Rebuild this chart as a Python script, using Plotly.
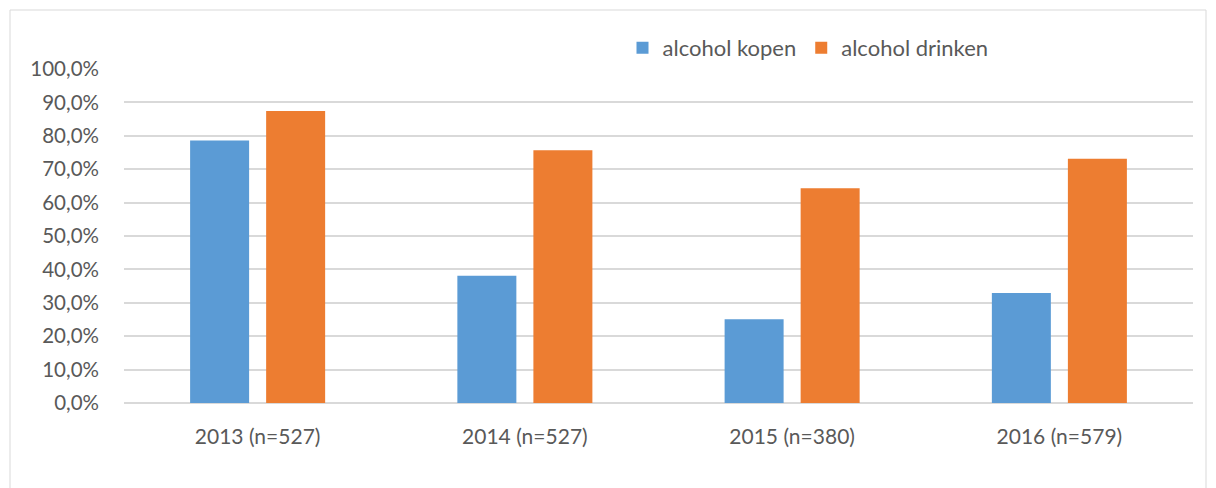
import plotly.graph_objects as go

categories = ["2013 (n=527)", "2014 (n=527)", "2015 (n=380)", "2016 (n=579)"]
kopen = [78.6, 38.1, 25.1, 32.9]
drinken = [87.4, 75.7, 64.3, 73.1]
tick_vals = [0, 10, 20, 30, 40, 50, 60, 70, 80, 90, 100]
tick_text = ["0,0%", "10,0%", "20,0%", "30,0%", "40,0%", "50,0%", "60,0%",
             "70,0%", "80,0%", "90,0%", "100,0%"]

W, H = 1216, 488
L, R, T, B = 124, 23, 69, 85
pw, ph = W - L - R, H - T - B

fig = go.Figure()
fig.add_trace(go.Bar(name="alcohol kopen", x=categories, y=kopen, marker_color="#5b9bd5",
                     marker_line_width=0))
fig.add_trace(go.Bar(name="alcohol drinken", x=categories, y=drinken, marker_color="#ed7d31",
                     marker_line_width=0))

font = "Lato, 'Open Sans', sans-serif"
fig.update_layout(
    width=W, height=H,
    margin=dict(l=L, r=R, t=T, b=B, autoexpand=False),
    paper_bgcolor="white", plot_bgcolor="white",
    barmode="group", bargap=0.431, bargroupgap=0.224,
    font=dict(family=font, size=21, color="#595959"),
    legend=dict(orientation="h", x=(808 - L) / pw, xanchor="center",
                y=1 + (T - 48) / ph, yanchor="middle",
                font=dict(size=22, color="#595959"), itemwidth=30,
                traceorder="normal"),
    xaxis=dict(showgrid=False, showline=False, ticks="", tickfont=dict(size=21),
               ticklabelstandoff=19),
    yaxis=dict(range=[0, 100], tickmode="array", tickvals=tick_vals, ticktext=tick_text,
               showgrid=True, gridcolor="#d9d9d9", gridwidth=1.5,
               zeroline=True, zerolinecolor="#d9d9d9", zerolinewidth=1.5,
               showline=False, ticks="", tickfont=dict(size=20.5), ticklabelstandoff=24),
    shapes=[dict(type="rect", xref="paper", yref="paper",
                 x0=(10 - L) / pw, x1=(1206 - L) / pw,
                 y0=-(500 - T - ph) / ph, y1=1 + (T - 10) / ph,
                 line=dict(color="#d9d9d9", width=1), layer="below")],
)

fig.write_html("out.html", config={"displayModeBar": False},
               post_script="document.body.style.margin='0px';")
